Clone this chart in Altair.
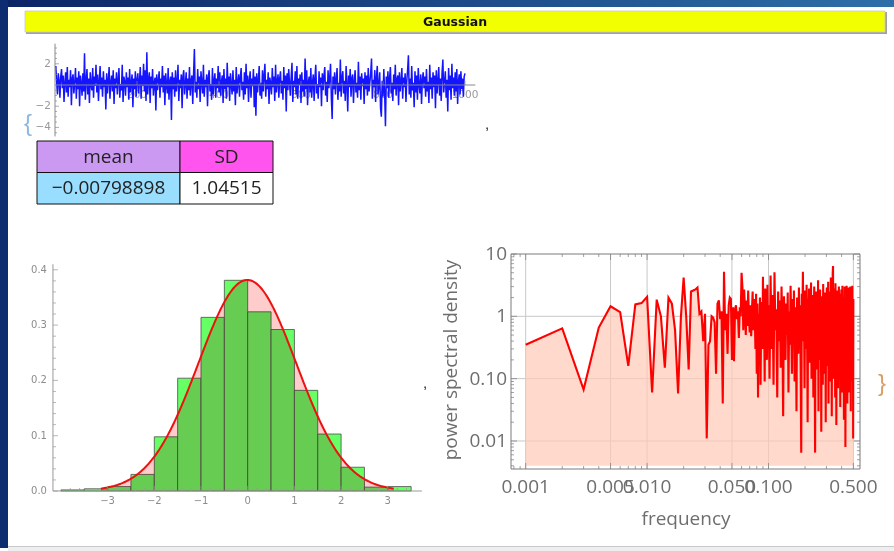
import altair as alt
import numpy as np
import pandas as pd

# ------------------------------------------------------------------ data
TITLE = "Gaussian"

# time series (read at every 2nd sample, t = 2 .. 1000)
SERIES_T = list(range(2, 1001, 2))
SERIES = [
    1.8, 0.3, -0.9, 1.1, 0.4, -1.2, 0.8, 1.5, -0.3, 0.9, -1.6, 0.2, 1.2, -0.7, 1.7, -1.1, 0.5, -0.2, 1.4, -1.9, 0.6, 1.0, -0.8, 0.1, 1.6,
    -1.3, 0.7, -0.4, 1.3, -2.0, 0.9, 0.2, -1.0, 1.1, -0.6, 3.0, -1.4, 0.4, 1.5, -0.9, 0.6, -1.7, 1.2, 0.0, -0.5, 1.6, -1.2, 0.8, -0.1, 1.9,
    -0.7, 1.0, -1.5, 0.3, 1.8, -0.4, 0.7, -1.1, 1.3, -0.2, 0.5, -2.3, 1.1, -0.8, 0.4, 1.7, -1.3, 0.2, 0.9, -0.6, 1.4, -1.8, 0.6, -0.3, 1.2,
    -0.9, 0.4, 1.6, -1.2, 0.1, -0.5, 1.9, -1.6, 0.8, 0.3, -1.0, 1.2, -0.2, 0.7, -1.4, 1.5, -0.7, 0.2, 1.0, -2.1, 0.6, -0.4, 1.3, -1.1, 0.5,
    1.1, -0.8, 0.3, 1.7, -1.3, 0.9, -0.1, 2.0, -0.6, 1.4, -1.5, 3.1, -0.9, 0.5, 1.2, -1.7, 0.8, -0.3, 1.5, -1.0, 0.2, 0.7, -2.4, 1.0, -0.5,
    0.4, 1.3, -1.2, 0.6, -0.2, 1.8, -0.7, 0.9, -1.9, 1.1, 0.0, -0.8, 1.6, -1.4, 0.3, 0.8, -3.3, 1.2, -0.4, 0.7, -1.1, 1.4, -0.6, 0.2, 1.9,
    -1.5, 0.5, -0.3, 1.0, -2.2, 0.8, 1.4, -0.9, 0.1, 1.2, -1.3, 0.6, -0.5, 1.7, -1.0, 0.4, 0.9, -1.8, 1.1, 3.4, -0.7, 0.3, -1.2, 1.5, -0.4,
    0.8, -1.6, 1.3, 0.2, -0.8, 1.9, -1.1, 0.5, -0.2, 1.0, -2.0, 0.7, 1.4, -0.6, 0.1, -1.4, 1.6, -0.9, 0.4, 1.1, -1.2, 0.6, -0.3, 1.8, -0.7,
    1.2, -1.0, 0.3, 0.9, -1.7, 1.5, -0.4, 0.6, -1.3, 2.1, -0.2, 0.8, -1.5, 1.1, 0.0, -0.9, 1.4, -0.6, 0.5, -1.9, 1.7, -0.8, 0.2, 1.0, -1.1,
    0.7, 1.6, -0.5, 0.3, -1.4, 1.2, -0.9, 2.0, -0.3, 0.9, -1.6, 0.4, 1.3, -1.2, 0.6, -0.1, 1.5, -2.1, 0.8, -2.9, 1.1, -0.7, 0.4, 1.8, -1.0,
    0.2, -1.3, 1.4, -0.6, 0.9, 2.0, -1.1, 0.5, -0.4, 1.2, -1.8, 0.7, 0.1, -0.9, 1.6, -0.2, 0.8, -1.5, 1.9, -0.7, 0.3, 1.0, -1.2, 0.6, 1.3,
    -0.8, 0.4, -1.4, 1.7, -0.3, 0.9, -2.5, 1.1, -0.5, 1.5, 0.2, -1.0, 0.7, 2.1, -1.6, 0.4, -0.2, 1.3, -0.9, 1.8, -1.3, 0.6, 0.0, 1.0, -1.7,
    1.2, -0.6, 0.5, -1.1, 2.5, -0.4, 1.4, -1.9, 0.3, 0.8, -0.7, 1.6, -1.2, 0.2, 1.0, -1.5, 0.6, 1.9, -0.8, 0.1, -1.3, 1.3, -0.2, 0.7, -2.0,
    1.1, -0.5, 0.9, 1.7, -1.0, 0.3, -1.6, 1.4, -0.3, 0.6, 2.0, -1.2, -3.2, 0.8, -0.4, 1.2, -0.9, 0.5, 1.6, -1.4, 0.2, -0.6, 2.4, -1.1, 0.7,
    1.3, -0.8, 0.4, -1.5, 1.8, 0.1, -2.5, 0.9, -0.2, 1.5, -1.1, 0.6, 1.0, -1.7, 0.3, 1.4, -0.7, 0.2, -1.2, 2.2, -0.5, 0.8, -1.4, 1.1, -0.1,
    0.6, -1.8, 1.2, -0.4, 0.9, -1.0, 1.6, -0.6, 0.3, 1.1, 2.5, -1.3, 0.5, -0.2, 1.4, -1.6, 0.7, 1.8, -0.9, 0.0, 1.2, -2.2, -3.0, 0.4, -1.1,
    1.5, -0.7, -3.9, 0.8, -0.3, 1.3, -1.2, 0.6, 1.7, -0.8, 0.2, -1.5, 1.0, -0.4, 1.9, -1.0, 0.5, 0.9, -1.9, 1.2, -0.6, 0.3, 1.6, -1.3, 0.7,
    -0.2, 1.1, -1.6, 0.4, 1.4, 2.8, -0.9, 0.6, -1.2, 1.8, -0.5, 0.2, -2.1, 1.3, -0.7, 0.9, -1.4, 1.6, 0.0, -0.8, 1.0, -1.8, 0.5, 1.2, -0.3,
    0.8, -1.1, 1.5, -0.6, 0.3, -1.7, 1.9, -0.4, 0.7, -1.3, 1.2, -0.2, 0.9, -2.2, 1.4, -0.8, 0.4, 1.7, -1.0, 0.6, -1.5, 1.1, 2.4, -0.7, 0.2,
    1.3, -1.2, 0.5, -2.5, 1.6, -0.5, 0.9, -1.4, 2.0, -0.3, 0.7, -1.0, 1.2, -0.6, 1.5, -1.8, 0.4, 1.0, -0.9, 1.3, -0.4, 0.6, -1.1, 0.8, 1.1,
]

MEAN = -0.00798898
SD = 1.04515
TABLE_HEADERS = ["mean", "SD"]
TABLE_VALUES = ["\u22120.00798898", "1.04515"]
HEADER_COLORS = ["#cc99f2", "#ff55ee"]
VALUE_COLORS = ["#99ddff", "#ffffff"]

BIN_LEFT = [-4.0, -3.5, -3.0, -2.5, -2.0, -1.5, -1.0, -0.5, 0.0, 0.5, 1.0, 1.5, 2.0, 2.5, 3.0]
BIN_RIGHT = [-3.5, -3.0, -2.5, -2.0, -1.5, -1.0, -0.5, 0.0, 0.5, 1.0, 1.5, 2.0, 2.5, 3.0, 3.5]
BIN_DENSITY = [0.002, 0.004, 0.008, 0.030, 0.098, 0.204, 0.314, 0.381, 0.324, 0.292, 0.182, 0.103, 0.043, 0.007, 0.008]

# periodogram: k/1000 for k = 1..100, then every 2nd k up to 500
PSD_K = list(range(1, 101)) + list(range(102, 501, 2))
PSD_VALUES = [
    0.35, 0.64, 0.067, 0.66, 1.45, 1.17, 0.16, 1.55, 1.63, 2.05,
    0.06, 1.85, 1.0, 0.15, 2.0, 1.6, 0.6, 0.058, 1.0, 4.2,
    1.0, 0.14, 2.5, 2.6, 2.7, 2.9, 1.1, 1.2, 0.4, 1.1, 0.011,
    0.35, 0.4, 1.0, 0.95, 0.8, 0.12, 1.6, 1.8, 0.9, 1.2,
    0.04, 5.2, 0.6, 1.1, 0.25, 1.5, 2.0, 1.9, 0.2, 1.4,
    0.19, 1.3, 1.5, 0.9, 1.2, 0.45, 1.4, 1.0, 5.0, 2.9,
    0.6, 2.7, 1.3, 0.5, 1.8, 0.7, 2.6, 1.0, 0.55, 1.5,
    0.48, 1.2, 2.5, 0.6, 1.9, 1.3, 0.3, 2.3, 0.12, 1.6,
    0.05, 1.1, 0.4, 2.0, 0.08, 0.9, 1.7, 0.3, 4.3, 0.5,
    1.2, 0.09, 2.8, 0.7, 1.4, 0.2, 3.2, 0.6, 1.5,
    0.1, 4.5, 0.3, 2.2, 0.08, 5.1, 0.6, 1.3, 0.05, 2.5, 0.4, 1.8, 0.15, 3.0, 0.7, 0.025, 2.1, 0.9, 0.2, 1.6,
    0.5, 2.4, 0.06, 1.2, 0.35, 3.1, 0.8, 0.12, 1.9, 0.45, 2.6, 0.09, 1.4, 0.7, 0.03, 2.0, 1.1, 0.25, 2.9, 0.6,
    1.5, 0.15, 0.0065, 2.3, 0.8, 5.2, 0.4, 1.7, 0.07, 2.6, 1.0, 0.3, 3.2, 0.5, 0.02, 1.9, 0.9, 2.8, 0.18, 1.3,
    0.6, 3.5, 0.1, 1.6, 0.4, 2.2, 0.05, 1.1, 3.0, 0.25, 0.0065, 1.8, 0.7, 2.5, 0.14, 1.2, 0.5, 3.8, 0.03, 1.5,
    0.9, 0.2, 2.7, 0.6, 1.4, 0.014, 2.1, 0.35, 1.0, 0.08, 3.3, 0.7, 1.7, 0.12, 0.45, 2.4, 0.9, 0.02, 1.6, 0.5,
    2.9, 0.16, 1.2, 0.6, 3.6, 0.04, 1.9, 0.3, 1.1, 2.5, 0.09, 0.8, 4.2, 0.5, 1.4, 0.025, 2.2, 0.7, 5.0, 6.4,
    0.3, 1.6, 0.1, 2.8, 0.6, 1.0, 0.05, 3.4, 0.4, 1.5, 0.018, 2.0, 0.8, 0.2, 2.6, 1.1, 0.07, 1.8, 0.5, 3.0,
    0.13, 1.3, 0.6, 2.3, 0.035, 1.7, 0.9, 0.25, 2.7, 0.45, 1.2, 0.06, 3.1, 0.7, 1.5, 0.15, 2.0, 0.4, 0.022, 1.9,
    0.8, 3.0, 0.3, 1.4, 0.008, 2.5, 0.6, 1.1, 0.1, 3.1, 0.5, 1.8, 0.04, 2.2, 0.9, 0.2, 1.6, 0.7, 2.9, 0.06,
    1.3, 0.4, 2.4, 0.15, 1.0, 3.0, 0.5, 0.03, 1.7, 0.8, 2.6, 0.12, 1.2, 0.45, 3.1, 0.09, 1.5, 0.7, 0.011, 1.9,
]

TS_XTICKS = [200, 400, 600, 800, 1000]
TS_XLABELS = ["200", "400", "600", "800", "1000"]
TS_YTICKS = [-4, -2, 2]
TS_YLABELS = ["\u22124", "\u22122", "2"]
H_XTICKS = [-3, -2, -1, 0, 1, 2, 3]
H_XLABELS = ["\u22123", "\u22122", "\u22121", "0", "1", "2", "3"]
H_YTICKS = [0.0, 0.1, 0.2, 0.3, 0.4]
H_YLABELS = ["0.0", "0.1", "0.2", "0.3", "0.4"]
P_XTICKS = [0.001, 0.005, 0.01, 0.05, 0.1, 0.5]
P_XLABELS = ["0.001", "0.005", "0.010", "0.050", "0.100", "0.500"]
P_YTICKS = [0.01, 0.1, 1, 10]
P_YLABELS = ["0.01", "0.10", "1", "10"]

assert len(SERIES) == len(SERIES_T)
assert len(PSD_VALUES) == len(PSD_K)

# ------------------------------------------------------------------ helpers
W, H = 894, 551
one = pd.DataFrame({"_": [0]})
GREY = "#8c8c8c"
SMALL_FONT = "DejaVu Sans"
BIG_FONT = "Open Sans"


def lin(domain, rng):
    return alt.Scale(type="linear", domain=domain, range=rng, nice=False, zero=False)


def logs(domain, rng):
    return alt.Scale(type="log", domain=domain, range=rng, nice=False)


def rule(xs, ys, x0, x1, y0, y1, color, width=1.0):
    return alt.Chart(one).mark_rule(color=color, strokeWidth=width).encode(
        x=alt.X(datum=x0, scale=xs, axis=None), x2=alt.X2(datum=x1),
        y=alt.Y(datum=y0, scale=ys, axis=None), y2=alt.Y2(datum=y1))


def vticks(vals, xs, ys, ydatum, size, yoff, color):
    return alt.Chart(pd.DataFrame({"v": vals})).mark_tick(
        orient="vertical", size=size, thickness=1, yOffset=yoff, color=color).encode(
        x=alt.X("v:Q", scale=xs, axis=None), y=alt.Y(datum=ydatum, scale=ys, axis=None))


def hticks(vals, xs, ys, xdatum, size, xoff, color):
    return alt.Chart(pd.DataFrame({"v": vals})).mark_tick(
        orient="horizontal", size=size, thickness=1, xOffset=xoff, color=color).encode(
        y=alt.Y("v:Q", scale=ys, axis=None), x=alt.X(datum=xdatum, scale=xs, axis=None))


def xlabels(vals, texts, xs, ys, ydatum, dy, size, font, color):
    return alt.Chart(pd.DataFrame({"v": vals, "lab": texts})).mark_text(
        dy=dy, fontSize=size, font=font, color=color, align="center", baseline="middle").encode(
        x=alt.X("v:Q", scale=xs, axis=None), y=alt.Y(datum=ydatum, scale=ys, axis=None), text="lab:N")


def ylabels(vals, texts, xs, ys, xdatum, dx, size, font, color):
    return alt.Chart(pd.DataFrame({"v": vals, "lab": texts})).mark_text(
        dx=dx, fontSize=size, font=font, color=color, align="right", baseline="middle").encode(
        y=alt.Y("v:Q", scale=ys, axis=None), x=alt.X(datum=xdatum, scale=xs, axis=None), text="lab:N")


def ptext(txt, x, y, **kw):
    return alt.Chart(one).mark_text(text=txt, **kw).encode(x=alt.value(x), y=alt.value(y))


def prect(x0, x1, y0, y1, **kw):
    return alt.Chart(one).mark_rect(**kw).encode(
        x=alt.value(x0), x2=alt.value(x1), y=alt.value(y0), y2=alt.value(y1))


layers = []

# ------------------------------------------------------------------ frame decoration
grad = alt.LinearGradient(
    gradient="linear",
    stops=[alt.GradientStop(color="#0b2466", offset=0), alt.GradientStop(color="#2e6fa8", offset=1)],
    x1=0, x2=1, y1=0, y2=0)
layers += [
    prect(0, W, 0, 7, fill=grad),
    prect(0, 8, 0, 548, fill="#0e2c70"),
    prect(8, W, 547, H, fill="#eeeeee"),
    prect(8, W, 546, 547, fill="#c8c8c8"),
    prect(26, 887, 12, 34, fill="#a0a0a0"),
    prect(25, 885, 11, 32, fill="#f2ff00", stroke="#c8c8c8", strokeWidth=0.8),
    ptext(TITLE, 455, 22, font="DejaVu Sans", fontSize=12.5, fontWeight="bold", color="#111111",
          align="center", baseline="middle"),
]

# ------------------------------------------------------------------ time series
TS_X = lin([0, 1000], [55, 465])
TS_Y = lin([-5, 5], [138, 32])
ts_df = pd.DataFrame({"t": SERIES_T, "v": SERIES})
ts_minor_y = [v / 2 for v in range(-9, 8) if v % 4 != 0]
ts_minor_x = [t for t in range(50, 1001, 50) if t % 200 != 0]
layers += [
    xlabels(TS_XTICKS, TS_XLABELS, TS_X, TS_Y, 0, 10, 10.5, SMALL_FONT, "#999999"),
    alt.Chart(ts_df).mark_line(color="#1414ff", strokeWidth=1.5).encode(
        x=alt.X("t:Q", scale=TS_X, axis=None), y=alt.Y("v:Q", scale=TS_Y, axis=None)),
    rule(TS_X, TS_Y, 0, 1025, 0, 0, "#888888"),
    rule(TS_X, TS_Y, 0, 0, -4.85, 3.9, "#888888"),
    hticks(TS_YTICKS, TS_X, TS_Y, 0, 4, 2, "#888888"),
    hticks(ts_minor_y, TS_X, TS_Y, 0, 2, 1, "#888888"),
    vticks(TS_XTICKS, TS_X, TS_Y, 0, 4, -2, "#888888"),
    vticks(ts_minor_x, TS_X, TS_Y, 0, 2, -1, "#888888"),
    ylabels(TS_YTICKS, TS_YLABELS, TS_X, TS_Y, 0, -4, 10.5, SMALL_FONT, "#999999"),
    ptext("{", 28, 124, fontSize=24, color="#8fb8e0", align="center", baseline="middle"),
    ptext(",", 487, 124, fontSize=15, color="#222222", align="center", baseline="middle"),
]

# ------------------------------------------------------------------ table
TB_X = alt.Scale(type="linear", domain=[0, 1, 2], range=[37, 180, 273], nice=False, zero=False)
TB_Y = lin([0, 2], [141, 204])
cells = pd.DataFrame({
    "c": [0, 1, 0, 1],
    "r": [0, 0, 1, 1],
    "txt": TABLE_HEADERS + TABLE_VALUES,
    "fill": HEADER_COLORS + VALUE_COLORS,
})
cells["c2"] = cells["c"] + 1
cells["r2"] = cells["r"] + 1
cells["cm"] = cells["c"] + 0.5
cells["rm"] = cells["r"] + 0.5
layers += [
    alt.Chart(cells).mark_rect(stroke="#111111", strokeWidth=1).encode(
        x=alt.X("c:Q", scale=TB_X, axis=None), x2="c2:Q",
        y=alt.Y("r:Q", scale=TB_Y, axis=None), y2="r2:Q",
        fill=alt.Fill("fill:N", scale=None)),
    alt.Chart(cells).mark_text(font=BIG_FONT, fontSize=19, color="#222222", baseline="middle", align="center").encode(
        x=alt.X("cm:Q", scale=TB_X, axis=None), y=alt.Y("rm:Q", scale=TB_Y, axis=None), text="txt:N"),
]

# ------------------------------------------------------------------ histogram + fitted density
H_X = lin([-4, 4], [60.9, 434.5])
H_Y = lin([0, 0.4], [491, 269.8])
hist = pd.DataFrame({"l": BIN_LEFT, "r": BIN_RIGHT, "d": BIN_DENSITY})
gx = np.linspace(MEAN - 3 * SD, MEAN + 3 * SD, 241)
curve = pd.DataFrame({"x": gx, "p": np.exp(-0.5 * ((gx - MEAN) / SD) ** 2) / (SD * np.sqrt(2 * np.pi))})
h_minor_y = [i / 50 for i in range(0, 21) if i % 5 != 0]
h_minor_x = [i / 5 for i in range(-20, 18) if i % 5 != 0]
layers += [
    alt.Chart(hist).mark_rect(fill="#66ff66", stroke="#4d4d4d", strokeWidth=0.8).encode(
        x=alt.X("l:Q", scale=H_X, axis=None), x2="r:Q",
        y=alt.Y("d:Q", scale=H_Y, axis=None), y2=alt.Y2(datum=0)),
    alt.Chart(curve).mark_area(color="#ffcccc", blend="multiply").encode(
        x=alt.X("x:Q", scale=H_X, axis=None),
        y=alt.Y("p:Q", scale=H_Y, axis=None), y2=alt.Y2(datum=0)),
    alt.Chart(curve).mark_line(color="#ee1111", strokeWidth=2).encode(
        x=alt.X("x:Q", scale=H_X, axis=None), y=alt.Y("p:Q", scale=H_Y, axis=None)),
    rule(H_X, H_Y, -4.17, 3.73, 0, 0, "#999999"),
    rule(H_X, H_Y, -4.17, -4.17, 0, 0.41, "#999999"),
    hticks(H_YTICKS, H_X, H_Y, -4.17, 5, 2.5, "#999999"),
    hticks(h_minor_y, H_X, H_Y, -4.17, 3, 1.5, "#999999"),
    vticks(H_XTICKS, H_X, H_Y, 0, 5, -2.5, "#999999"),
    vticks(h_minor_x, H_X, H_Y, 0, 3, -1.5, "#999999"),
    ylabels(H_YTICKS, H_YLABELS, H_X, H_Y, -4.17, -6, 10, SMALL_FONT, GREY),
    xlabels(H_XTICKS, H_XLABELS, H_X, H_Y, 0, 10, 10, SMALL_FONT, GREY),
    ptext(",", 425, 383, fontSize=15, color="#222222", align="center", baseline="middle"),
]

# ------------------------------------------------------------------ power spectral density
PX0, PX1, PY0, PY1 = 0.000757, 0.567, 0.00355, 10
P_X = logs([PX0, PX1], [511, 860])
P_Y = logs([PY0, PY1], [469, 254])
psd = pd.DataFrame({"f": [k / 1000 for k in PSD_K], "p": PSD_VALUES})
p_minor_x = [m * d for d in (0.0001, 0.001, 0.01, 0.1) for m in (2, 3, 4, 6, 7, 8, 9) if PX0 < m * d < PX1]
p_minor_y = [m * d for d in (0.001, 0.01, 0.1, 1) for m in range(2, 10) if PY0 < m * d < PY1]
frame_c = "#7a7a7a"
layers += [
    alt.Chart(pd.DataFrame({"v": P_XTICKS})).mark_rule(color="#c8c8c8", strokeWidth=1).encode(
        x=alt.X("v:Q", scale=P_X, axis=None),
        y=alt.Y(datum=PY0, scale=P_Y, axis=None), y2=alt.Y2(datum=PY1)),
    alt.Chart(pd.DataFrame({"v": P_YTICKS[:-1]})).mark_rule(color="#c8c8c8", strokeWidth=1).encode(
        y=alt.Y("v:Q", scale=P_Y, axis=None),
        x=alt.X(datum=PX0, scale=P_X, axis=None), x2=alt.X2(datum=PX1)),
    alt.Chart(psd).mark_area(color="#ffc9b5", opacity=0.7).encode(
        x=alt.X("f:Q", scale=P_X, axis=None),
        y=alt.Y("p:Q", scale=P_Y, axis=None), y2=alt.Y2(datum=0.004)),
    alt.Chart(psd).mark_line(color="#ff0000", strokeWidth=2.1).encode(
        x=alt.X("f:Q", scale=P_X, axis=None), y=alt.Y("p:Q", scale=P_Y, axis=None)),
    alt.Chart(one).mark_rect(fill="transparent", stroke=frame_c, strokeWidth=1).encode(
        x=alt.X(datum=PX0, scale=P_X, axis=None), x2=alt.X2(datum=PX1),
        y=alt.Y(datum=PY0, scale=P_Y, axis=None), y2=alt.Y2(datum=PY1)),
    vticks(P_XTICKS, P_X, P_Y, PY0, 6, -3, frame_c),
    vticks(p_minor_x, P_X, P_Y, PY0, 3, -1.5, frame_c),
    vticks(P_XTICKS, P_X, P_Y, PY1, 6, 3, frame_c),
    vticks(p_minor_x, P_X, P_Y, PY1, 3, 1.5, frame_c),
    hticks(P_YTICKS, P_X, P_Y, PX0, 6, 3, frame_c),
    hticks(p_minor_y, P_X, P_Y, PX0, 3, 1.5, frame_c),
    hticks(P_YTICKS, P_X, P_Y, PX1, 6, -3, frame_c),
    hticks(p_minor_y, P_X, P_Y, PX1, 3, -1.5, frame_c),
    xlabels(P_XTICKS, P_XLABELS, P_X, P_Y, PY0, 18, 19, BIG_FONT, "#6e6e6e"),
    ylabels(P_YTICKS, P_YLABELS, P_X, P_Y, PX0, -4, 19, BIG_FONT, "#6e6e6e"),
    ptext("power spectral density", 451, 360, font=BIG_FONT, fontSize=19, color="#6e6e6e",
          angle=270, align="center", baseline="middle"),
    ptext("frequency", 686, 519, font=BIG_FONT, fontSize=19, color="#6e6e6e",
          align="center", baseline="middle"),
    ptext("}", 882, 384, fontSize=24, color="#d9a066", align="center", baseline="middle"),
]

chart = alt.layer(*layers).resolve_scale(
    x="independent", y="independent", fill="independent", color="independent"
).properties(
    width=W, height=H, padding=0, autosize=alt.AutoSizeParams(type="none"), background="white"
).configure_view(stroke=None)

chart.save("out.html", embed_options={"renderer": "svg", "actions": False})
